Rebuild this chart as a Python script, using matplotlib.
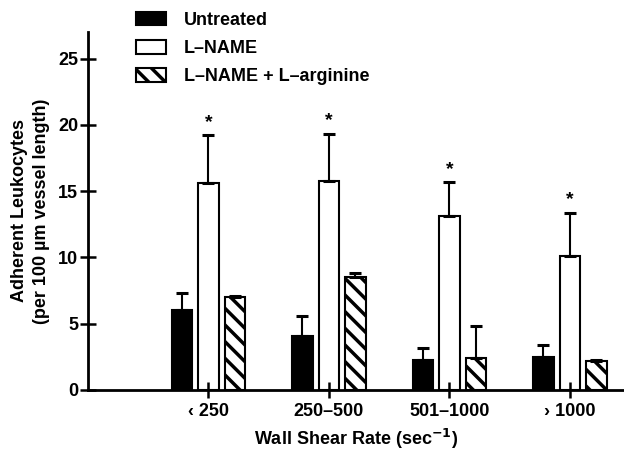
import numpy as np
import matplotlib
matplotlib.use('Agg')
import matplotlib.pyplot as plt

plt.rcParams['font.family'] = ['Liberation Sans', 'DejaVu Sans']
plt.rcParams['font.weight'] = 'bold'
plt.rcParams['hatch.linewidth'] = 2.5

# data
categories = ['\u2039 250', '250\u2013500', '501\u20131000', '\u203a 1000']
untreated = [6.0, 4.1, 2.3, 2.5]
untreated_err = [1.3, 1.5, 0.85, 0.9]
lname = [15.6, 15.8, 13.1, 10.1]
lname_err = [3.6, 3.5, 2.55, 3.25]
lname_arg = [7.0, 8.5, 2.4, 2.2]
lname_arg_err = [0.1, 0.35, 2.45, 0.08]
signif = [True, True, True, True]

fig = plt.figure(figsize=(6.24, 4.5), dpi=100)
ax = fig.add_axes([88/624, 60/450, 536/624, 358/450])

x = np.arange(1, len(categories) + 1)
w = 0.17
off = 0.22
lw = 1.5

ekw = dict(lw=1.5, capthick=2.2)
ax.bar(x - off, untreated, w, color='black', edgecolor='black', linewidth=lw,
       label='Untreated')
ax.errorbar(x - off, untreated, yerr=[np.zeros(4), untreated_err], fmt='none',
            ecolor='black', capsize=4, **ekw)
ax.bar(x, lname, w, color='white', edgecolor='black', linewidth=lw,
       label='L\u2013NAME')
ax.errorbar(x, lname, yerr=[np.zeros(4), lname_err], fmt='none',
            ecolor='black', capsize=4, **ekw)
ax.bar(x + off, lname_arg, w, color='white', edgecolor='black', linewidth=lw,
       hatch='\\\\', label='L\u2013NAME + L\u2013arginine')
ax.errorbar(x + off, lname_arg, yerr=[np.zeros(4), lname_arg_err], fmt='none',
            ecolor='black', capsize=4, **ekw)

for xi, v, e, s in zip(x, lname, lname_err, signif):
    if s:
        ax.text(xi, v + e + 0.35, '*', ha='center', va='bottom', fontsize=14,
                fontweight='bold')

ax.set_xlim(0, 4.45)
ax.set_ylim(0, 27)
ax.set_xticks(x)
ax.set_xticklabels(categories)
ax.set_yticks([0, 5, 10, 15, 20, 25])
ax.tick_params(direction='inout', length=12, width=1.8, labelsize=13)
ax.tick_params(axis='y', pad=1)
ax.tick_params(axis='x', pad=3)
for sp in ['top', 'right']:
    ax.spines[sp].set_visible(False)
for sp in ['left', 'bottom']:
    ax.spines[sp].set_linewidth(2)

ax.set_ylabel('Adherent Leukocytes\n(per 100 \u00b5m vessel length)', fontsize=13,
              fontweight='bold', labelpad=6, linespacing=1.4)
ax.set_xlabel('Wall Shear Rate (sec$^{\\mathbf{-1}}$)', fontsize=13, fontweight='bold',
              labelpad=5)

fig.legend(loc='upper left', bbox_to_anchor=(136/624, 1 - 12/450), frameon=False,
           fontsize=13, handlelength=1.65, handleheight=0.75, handletextpad=1.0,
           labelspacing=0.62, borderpad=0, borderaxespad=0)

fig.savefig('out.png', dpi=100)
